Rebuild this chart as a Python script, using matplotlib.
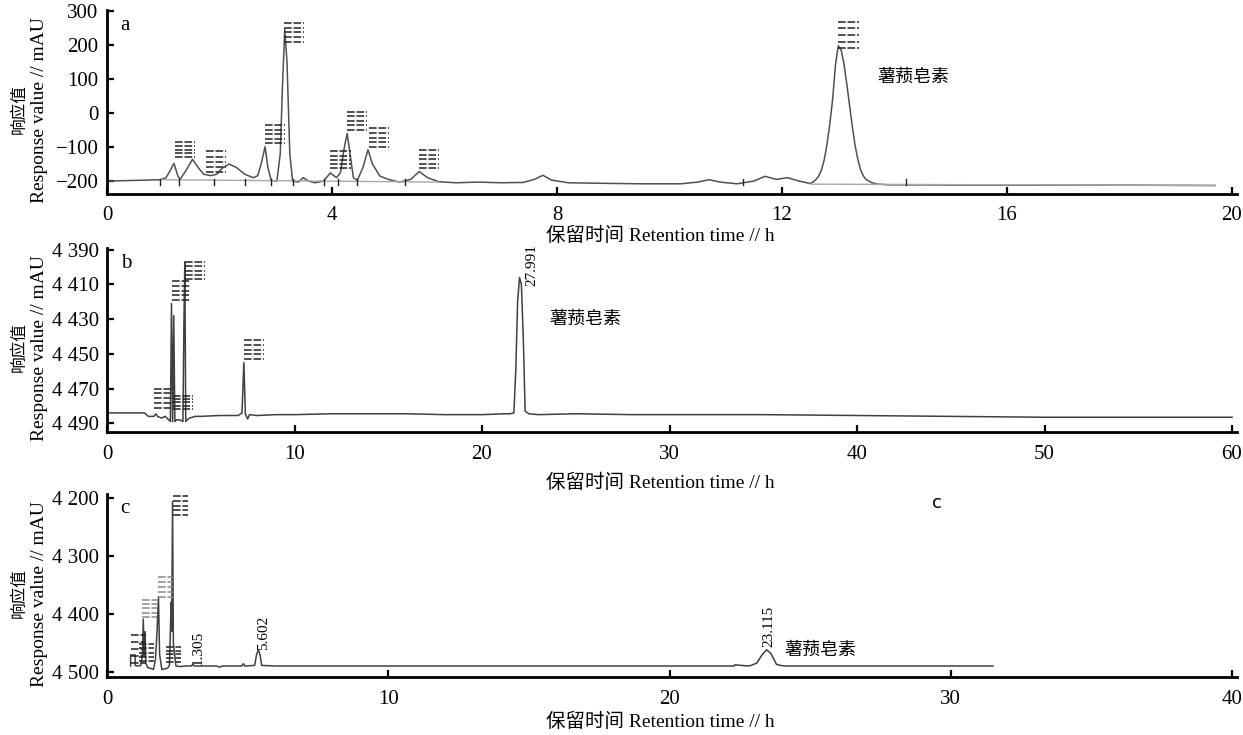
import matplotlib
matplotlib.use('Agg')
import matplotlib.pyplot as plt

plt.rcParams['font.family'] = ['Liberation Serif', 'Noto Sans CJK SC']

# ---------------- data ----------------
# panel a : trace vertices (retention time, response)
a_x = [0, 0.5, 0.95, 1.05, 1.12, 1.19, 1.26, 1.3, 1.4, 1.52, 1.62, 1.72, 1.85, 1.95, 2.05, 2.17,
       2.3, 2.45, 2.6, 2.68, 2.74, 2.81, 2.86, 2.92, 3.02, 3.08, 3.12, 3.16, 3.2, 3.25, 3.3, 3.4,
       3.49, 3.58, 3.7, 3.85, 3.97, 4.08, 4.15, 4.22, 4.27, 4.32, 4.38, 4.45, 4.55, 4.64, 4.72,
       4.85, 5.0, 5.2, 5.4, 5.55, 5.7, 5.9, 6.2, 6.6, 7.0, 7.4, 7.6, 7.75, 7.9, 8.2, 9.0, 9.5,
       10.2, 10.5, 10.7, 10.9, 11.2, 11.5, 11.7, 11.9, 12.1, 12.3, 12.5, 12.55, 12.6, 12.65, 12.7,
       12.75, 12.8, 12.85, 12.9, 12.95, 13.0, 13.05, 13.1, 13.15, 13.2, 13.25, 13.3, 13.35, 13.4,
       13.45, 13.5, 13.6, 13.7, 13.9, 14.2, 16.0, 18.0, 19.7]
a_y = [-200, -198, -196, -190, -170, -148, -185, -195, -170, -136, -160, -180, -184, -180, -162, -150,
       -160, -180, -190, -184, -150, -99, -160, -198, -200, -120, 80, 246, 150, -120, -200, -203,
       -190, -200, -205, -200, -176, -190, -175, -100, -60, -120, -190, -198, -160, -108, -150,
       -185, -195, -203, -195, -172, -190, -202, -205, -203, -205, -204, -195, -183, -197, -205, -207, -208,
       -208, -203, -196, -203, -208, -200, -186, -195, -190, -200, -207, -203, -196, -186, -168,
       -138, -92, -32, 40, 140, 198, 186, 146, 88, 24, -40, -96, -138, -168,
       -186, -196, -205, -209, -211, -211, -212, -212, -213]
a_base_x = [[0.95, 5.9], [12.5, 19.7]]
a_base_y = [[-196, -203], [-209, -213]]
a_marks = [0.95, 1.28, 1.9, 2.45, 2.92, 3.3, 3.85, 4.1, 4.45, 5.3, 11.3, 14.2]
# peak-label stacks: left x, bottom y, top y
a_lab_x = [1.2, 1.76, 2.8, 3.15, 3.97, 4.27, 4.66, 5.55, 13.0]
a_lab_y0 = [-130, -172, -89, 210, -162, -50, -99, -163, 191]
a_lab_y1 = [-85, -113, -35, 264, -113, 4, -45, -109, 268]

# panel b
b_x = [0, 1.0, 2.0, 2.2, 2.5, 2.6, 2.7, 2.9, 3.1, 3.3, 3.38, 3.44, 3.5, 3.56, 3.62, 3.7, 3.9, 4.05,
       4.1, 4.15, 4.2, 4.28, 4.4, 4.7, 5.0, 6.0, 7.0, 7.2, 7.3, 7.38, 7.5, 7.6, 8, 9, 10, 12, 14,
       16, 18, 20, 21.2, 21.5, 21.7, 21.8, 21.9, 22.0, 22.1, 22.2, 22.3, 22.5, 23, 25, 28, 30, 35,
       40, 45, 50, 55, 60]
b_y = [4484, 4484, 4484, 4486, 4486, 4484.5, 4486, 4487, 4486, 4488, 4489, 4421, 4489, 4428, 4489,
       4488, 4488, 4489, 4434, 4397, 4489, 4488, 4487, 4486, 4486, 4485.5, 4485.5, 4484, 4455,
       4484.5, 4487.5, 4485, 4485.5, 4485, 4485, 4484.5, 4484.5, 4484.5, 4485, 4485, 4484.5,
       4484.5, 4484, 4460, 4420, 4406, 4410, 4440, 4483, 4484.5, 4485, 4484.5, 4485, 4485, 4485,
       4485.5, 4486, 4486.5, 4486.5, 4486.5]
b_lab_x = [2.5, 3.5, 3.44, 4.15, 7.33]
b_lab_y0 = [4481, 4482, 4419, 4407, 4453]
b_lab_y1 = [4470, 4474, 4408, 4397, 4442]
b_peak_rt = ["27.991"]
b_peak_pos = [(22.66, 4399)]

# panel c
c_x = [0.84, 0.84, 0.95, 1.0, 1.0, 1.1, 1.2, 1.26, 1.29, 1.32, 1.35, 1.38, 1.45, 1.55, 1.65, 1.72,
       1.78, 1.83, 1.87, 1.95, 2.05, 2.15, 2.22, 2.28, 2.3, 2.33, 2.36, 2.45, 2.6, 2.8, 3.0, 3.05,
       3.1, 3.4, 3.9, 4.0, 4.1, 4.8, 4.85, 4.9, 5.25, 5.32, 5.38, 5.44, 5.5, 6, 8, 10, 15, 20,
       22.3, 22.32, 22.8, 22.9, 23.1, 23.3, 23.45, 23.6, 23.8, 23.95, 24.1, 26, 31.5]
c_y = [4490, 4471, 4471, 4471, 4489, 4490, 4489, 4470, 4409, 4470, 4431, 4485, 4493, 4494, 4496,
       4480, 4430, 4370, 4470, 4496, 4495, 4494, 4489, 4380, 4430, 4206, 4450, 4490, 4491, 4490,
       4490, 4487, 4490, 4490, 4490, 4492, 4490, 4490, 4486, 4490, 4489, 4470, 4462, 4470, 4489,
       4490, 4490, 4490, 4490, 4490, 4490, 4488, 4490, 4489, 4485, 4470, 4462, 4468, 4487, 4489,
       4490, 4490, 4490]
c_lab_x = [0.84, 1.14, 1.25, 1.8, 2.33, 2.1]
c_lab_y0 = [4485, 4482, 4405, 4370, 4229, 4483]
c_lab_y1 = [4437, 4452, 4376, 4336, 4197, 4457]
c_lab_gray = [False, False, True, True, False, False]
c_peak_rt = ["1.305", "5.602", "23.115"]
c_peak_pos = [(3.25, 4459), (5.55, 4432), (23.55, 4422)]

a_xticks = [0, 4, 8, 12, 16, 20]
a_yticks = [-200, -100, 0, 100, 200, 300]
a_ytl = ["−200", "−100", "0", "100", "200", "300"]
b_xticks = [0, 10, 20, 30, 40, 50, 60]
b_yticks = [4390, 4410, 4430, 4450, 4470, 4490]
b_ytl = ["4 390", "4 410", "4 430", "4 450", "4 470", "4 490"]
c_xticks = [0, 10, 20, 30, 40]
c_yticks = [4200, 4300, 4400, 4500]
c_ytl = ["4 200", "4 300", "4 400", "4 500"]

compound = "薯蓣皂素"
xlab = "保留时间 Retention time // h"
ylab_en = "Response value // mAU"
ylab_cn = "响应值"

# ---------------- figure ----------------
W, H = 1243, 735
fig = plt.figure(figsize=(W / 100, H / 100), dpi=100)


def px_axes(left, top, right, bottom):
    return fig.add_axes([left / W, 1 - bottom / H, (right - left) / W, (bottom - top) / H])


axA = px_axes(107, 10, 1237, 194)
axB = px_axes(107, 248, 1237, 432)
axC = px_axes(107, 494, 1237, 677)


def style(ax, xticks, yticks, ytl, xmax, ylim, letter):
    for s in ["top", "right"]:
        ax.spines[s].set_visible(False)
    for s in ["left", "bottom"]:
        ax.spines[s].set_linewidth(2.0)
    ax.set_xlim(0, xmax * 1130 / 1125)
    ax.set_ylim(*ylim)
    ax.set_xticks(xticks)
    ax.set_xticklabels([str(t) for t in xticks])
    ax.set_yticks(yticks)
    ax.set_yticklabels(ytl)
    ax.tick_params(axis="both", direction="in", length=5, width=1.6, labelsize=15)
    ax.tick_params(axis="x", pad=9)
    ax.tick_params(axis="y", pad=6)
    ax.text(-0.0595, 0.455, ylab_en, transform=ax.transAxes, rotation=90, fontsize=14,
            ha="center", va="center")
    ax.text(-0.0775, 0.46, ylab_cn, transform=ax.transAxes, rotation=90, fontsize=12,
            ha="center", va="center", family=["Noto Sans CJK SC"])
    ax.text(0.012, 0.97, letter, transform=ax.transAxes, fontsize=15, ha="left", va="top")


def stacks(ax, xs, y0s, y1s, width, grays=None, n=5):
    for i, (x, y0, y1) in enumerate(zip(xs, y0s, y1s)):
        col = "#888888" if (grays and grays[i]) else "#222222"
        for k in range(n):
            y = y0 + (y1 - y0) * k / (n - 1)
            ax.plot([x, x + width], [y, y], color=col, lw=1.1, ls=(0, (5, 1.2)),
                    solid_capstyle="butt")


# panel a
axA.plot(a_x, a_y, color="#505050", lw=1.1)
for bx, by in zip(a_base_x, a_base_y):
    axA.plot(bx, by, color="#a8a8a8", lw=1.0)
for m in a_marks:
    axA.plot([m, m], [-212, -194], color="#222222", lw=1.0)
stacks(axA, a_lab_x, a_lab_y0, a_lab_y1, 0.36)
style(axA, a_xticks, a_yticks, a_ytl, 20, (-238, 303), "a")
axA.text(13.7, 106, compound, fontsize=13, family=["Noto Sans CJK SC"], ha="left", va="center")

# panel b
axB.plot(b_x, b_y, color="#404040", lw=1.1)
stacks(axB, b_lab_x, b_lab_y0, b_lab_y1, 1.06)
style(axB, b_xticks, b_yticks, b_ytl, 60, (4495, 4389), "b")
for t, (x, y) in zip(b_peak_rt, b_peak_pos):
    axB.text(x, y, t, rotation=90, fontsize=11, ha="center", va="center")
axB.text(23.6, 4430, compound, fontsize=13, family=["Noto Sans CJK SC"], ha="left", va="center")

# panel c
axC.plot(c_x, c_y, color="#404040", lw=1.1)
stacks(axC, c_lab_x, c_lab_y0, c_lab_y1, 0.54, c_lab_gray)
style(axC, c_xticks, c_yticks, c_ytl, 40, (4509, 4193), "c")
for t, (x, y) in zip(c_peak_rt, c_peak_pos):
    axC.text(x, y, t, rotation=90, fontsize=11, ha="center", va="center")
axC.text(24.1, 4462, compound, fontsize=13, family=["Noto Sans CJK SC"], ha="left", va="center")

# x-axis titles
for ypx in [236, 483, 722]:
    fig.text(660 / W, 1 - ypx / H, xlab, fontsize=14, ha="center", va="center",
             family=["Liberation Serif", "Noto Sans CJK SC"])

fig.text(937 / W, 1 - 503 / H, "c", fontsize=13, ha="center", va="center", family=["DejaVu Sans"])

fig.savefig("out.png", dpi=100)
